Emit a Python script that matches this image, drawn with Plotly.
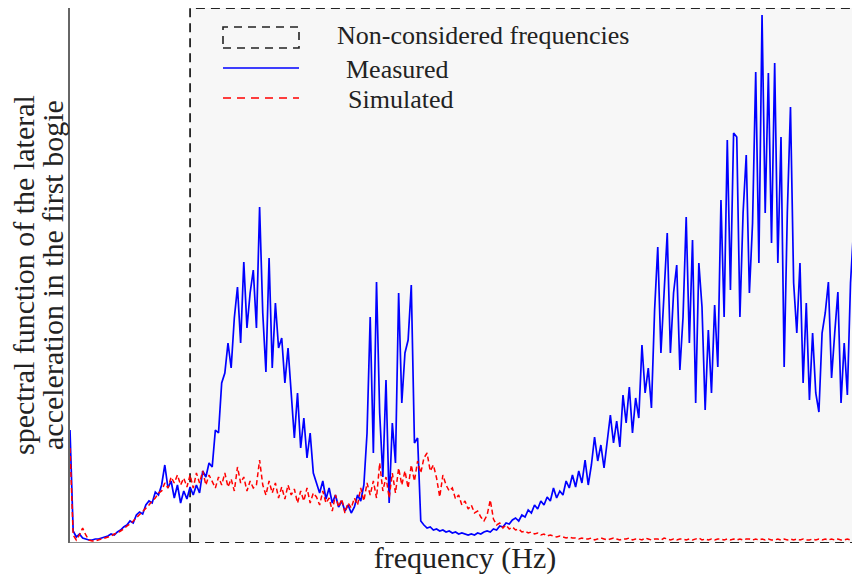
import plotly.graph_objects as go

# frequency grid (Hz), uniform FFT-style bins
freq_step = 0.2
n_bins = 251
freq = [round(i * freq_step, 2) for i in range(n_bins)]
band_start = 7.6  # start of the considered band (Hz)

measured = [
    113, 12, 6, 9, 5, 4, 3, 3, 4, 4,
    5, 6, 7, 9, 8, 11, 13, 16, 18, 22,
    20, 28, 31, 29, 38, 42, 40, 51, 48, 58,
    78, 55, 62, 45, 58, 40, 52, 44, 56, 48,
    58, 50, 72, 66, 80, 76, 113, 110, 160, 170,
    200, 175, 225, 256, 200, 281, 215, 250, 273, 215,
    336, 230, 171, 285, 175, 240, 195, 205, 160, 195,
    145, 105, 150, 95, 125, 85, 110, 70, 60, 50,
    62, 44, 55, 40, 48, 36, 42, 32, 38, 30,
    36, 48, 42, 58, 110, 226, 90, 261, 130, 66,
    163, 40, 120, 80, 250, 140, 190, 203, 258, 100,
    105, 22, 18, 15, 16, 13, 14, 12, 13, 11,
    12, 10, 11, 9, 10, 9, 8, 9, 8, 10,
    9, 11, 12, 11, 14, 13, 17, 16, 20, 19,
    23, 25, 22, 28, 26, 33, 30, 38, 34, 42,
    38, 46, 42, 55, 45, 52, 48, 62, 55, 68,
    56, 72, 60, 83, 58, 78, 106, 82, 98, 75,
    103, 128, 100, 122, 96, 148, 120, 156, 110, 145,
    125, 198, 150, 175, 135, 233, 296, 190, 250, 310,
    190, 250, 278, 173, 226, 326, 200, 303, 140, 280,
    236, 133, 213, 150, 238, 176, 343, 226, 403, 253,
    410, 406, 226, 330, 388, 250, 320, 471, 280, 528,
    330, 470, 300, 480, 280, 406, 176, 330, 436, 260,
    210, 280, 160, 240, 143, 210, 150, 131, 210, 230,
    261, 165, 210, 251, 140, 200, 148, 260, 316, 170,
    300,
]

simulated = [
    95, 8, 3, 8, 15, 8, 3, 2, 2, 3,
    4, 5, 6, 7, 9, 10, 12, 14, 17, 19,
    22, 25, 28, 31, 35, 38, 42, 45, 50, 52,
    60, 55, 66, 60, 68, 58, 65, 56, 68, 55,
    70, 60, 72, 58, 68, 62, 55, 66, 58, 70,
    56, 64, 52, 76, 60, 66, 52, 62, 55, 58,
    83, 58, 48, 62, 50, 60, 45, 56, 44, 58,
    48, 54, 40, 52, 42, 55, 40, 50, 46, 38,
    52, 40, 45, 32, 48, 36, 44, 30, 40, 35,
    45, 38, 55, 42, 60, 48, 62, 45, 80, 52,
    66, 45, 70, 50, 75, 58, 72, 55, 78, 62,
    82, 70, 85, 90, 72, 78, 65, 46, 68, 58,
    52, 55, 44, 48, 38, 42, 34, 38, 30, 32,
    26, 22, 28, 43, 24, 18, 20, 15, 18, 14,
    16, 13, 14, 11, 12, 10, 11, 9, 10, 8,
    9, 7, 8, 7, 6, 7, 6, 5, 6, 5,
    5, 4, 5, 4, 4, 5, 3, 4, 5, 4,
    3, 4, 5, 4, 3, 4, 4, 5, 3, 4,
    4, 3, 5, 4, 3, 4, 4, 3, 5, 4,
    3, 4, 3, 4, 4, 3, 4, 3, 4, 5,
    3, 4, 3, 4, 3, 4, 4, 3, 4, 3,
    4, 3, 4, 3, 4, 4, 3, 4, 3, 4,
    3, 4, 3, 3, 4, 3, 4, 3, 4, 3,
    4, 3, 4, 3, 3, 4, 3, 4, 3, 4,
    3, 4, 3, 4, 3, 3, 4, 3, 4, 3,
    4,
]

legend_labels = ["Non-considered frequencies", "Measured", "Simulated"]
y_title_lines = ["spectral function of the lateral", "acceleration in the first bogie"]
x_title = "frequency (Hz)"

y_max = 535
x_max = 50

FONT = "Liberation Serif"
TXT = "#222222"

fig = go.Figure()
fig.add_trace(go.Scatter(x=freq, y=measured, mode="lines", name=legend_labels[1],
                         line=dict(color="#0000ff", width=1.7), showlegend=False))
fig.add_trace(go.Scatter(x=freq, y=simulated, mode="lines", name=legend_labels[2],
                         line=dict(color="#ff0000", width=1.5, dash="5px,3px"), showlegend=False))

# non-considered frequency band
fig.add_shape(type="rect", xref="x", yref="y", x0=band_start, x1=x_max, y0=0, y1=y_max,
              fillcolor="#f7f7f7", line=dict(color="#222222", width=1.8, dash="9px,6px"),
              layer="below")
# solid part of bottom axis
fig.add_shape(type="line", xref="x", yref="y", x0=0, x1=band_start, y0=0, y1=0,
              line=dict(color="#666666", width=1.5), layer="above")

# helpers: pixel position in the screenshot -> paper coordinates
# (plot area spans x 70..860, y 8..543 on screen)
def px2paper_x(px):
    return (px - 70) / 790.0

def py2paper_y(py):
    return (543 - py) / 535.0

# custom legend
fig.add_shape(type="rect", xref="paper", yref="paper",
              x0=px2paper_x(223), x1=px2paper_x(299), y0=py2paper_y(48), y1=py2paper_y(27),
              line=dict(color="#222222", width=1.6, dash="8px,6px"), fillcolor="rgba(0,0,0,0)")
fig.add_shape(type="line", xref="paper", yref="paper",
              x0=px2paper_x(223), x1=px2paper_x(299), y0=py2paper_y(68), y1=py2paper_y(68),
              line=dict(color="#0000ff", width=1.7))
fig.add_shape(type="line", xref="paper", yref="paper",
              x0=px2paper_x(223), x1=px2paper_x(299), y0=py2paper_y(98), y1=py2paper_y(98),
              line=dict(color="#ff0000", width=1.5, dash="8px,6px"))

legend_x = [335, 344, 346]
legend_y = [36, 69, 99]
for lab, lx, ly in zip(legend_labels, legend_x, legend_y):
    fig.add_annotation(text=lab, xref="paper", yref="paper", x=px2paper_x(lx), y=py2paper_y(ly),
                       xanchor="left", yanchor="middle", showarrow=False,
                       font=dict(family=FONT, size=26, color=TXT))

# y-axis title (two rotated lines)
for lab, cx in zip(y_title_lines, [23, 52]):
    fig.add_annotation(text=lab, xref="paper", yref="paper", x=px2paper_x(cx), y=py2paper_y(275),
                       xanchor="center", yanchor="middle", textangle=-90, showarrow=False,
                       font=dict(family=FONT, size=30, color=TXT))

# the page body adds an 8px offset, so the figure is 8px smaller than the window
fig.update_layout(
    width=852, height=573,
    margin=dict(l=62, r=0, t=0, b=38),
    paper_bgcolor="white", plot_bgcolor="white",
    xaxis=dict(range=[0, x_max], showgrid=False, zeroline=False, showline=False,
               showticklabels=False, ticks="", automargin=False,
               title=dict(text=x_title, standoff=3,
                          font=dict(family=FONT, size=30, color=TXT))),
    yaxis=dict(range=[0, y_max], showgrid=False, zeroline=False, showline=True,
               linecolor="#666666", linewidth=1.5, automargin=False,
               showticklabels=False, ticks=""),
)

fig.write_html("out.html")
